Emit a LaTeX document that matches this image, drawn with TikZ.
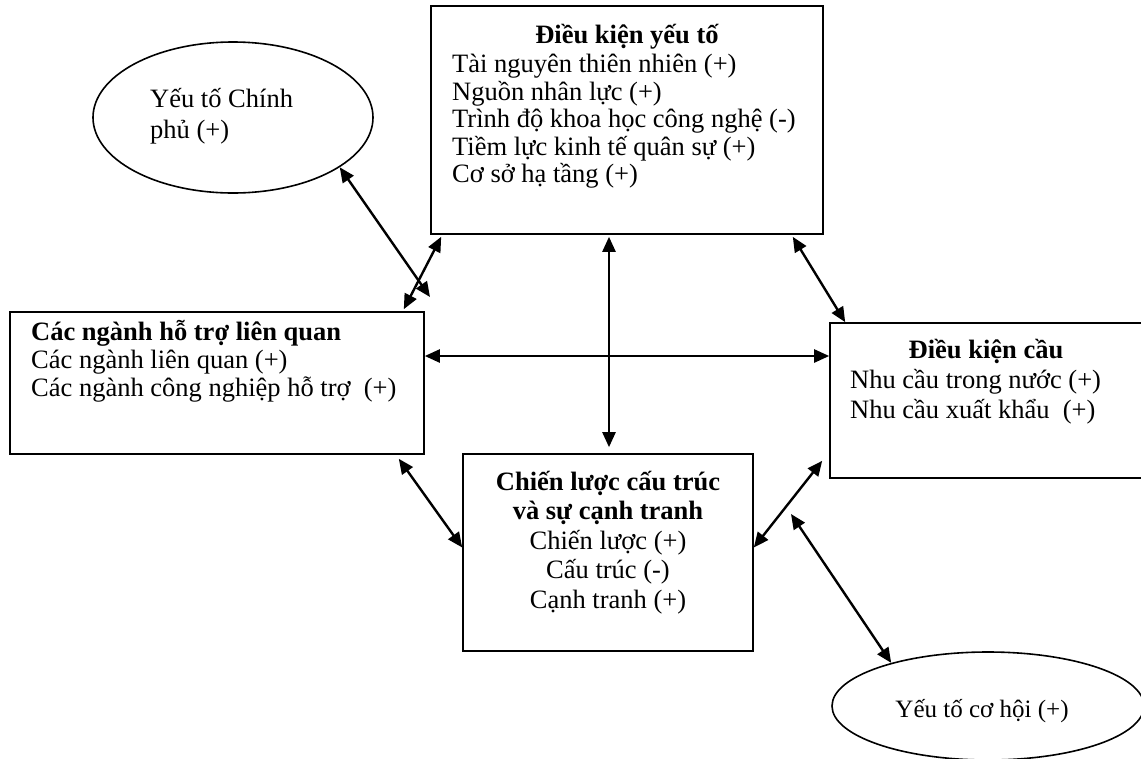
\documentclass[tikz,border=0pt]{standalone}
\usepackage{fontspec}
\setmainfont{Liberation Serif}
\usetikzlibrary{arrows.meta,shapes.geometric}

\begin{document}
\begin{tikzpicture}[x=1pt,y=-1pt,
  box/.style={draw, line width=1.6pt, rectangle, inner sep=0pt},
  oval/.style={draw, line width=1.6pt, ellipse, inner sep=0pt},
  txt/.style={inner sep=0pt, font=\fontsize{26.5pt}{30pt}\selectfont},
  ttl/.style={inner sep=0pt, font=\fontsize{26.5pt}{30pt}\selectfont\bfseries},
  link/.style={line width=2.4pt,
    {Triangle[length=15pt,width=13pt]}-{Triangle[length=15pt,width=13pt]}}
]
\path[use as bounding box] (0,0) rectangle (1141,758);
\fill[white] (0,0) rectangle (1141,758);
\begin{scope}
\clip (0,0) rectangle (1141,758);

% the four determinant boxes
\node[box, minimum width=392pt, minimum height=228pt] (factor) at (627,120) {};
\node[box, minimum width=414pt, minimum height=142pt] (support) at (217,383) {};
\node[box, minimum width=313pt, minimum height=155pt] (demand) at (986.5,400.5) {};
\node[box, minimum width=290pt, minimum height=197pt] (strategy) at (608,552.5) {};

% the two outside factors
\node[oval, minimum width=280pt, minimum height=151pt] (gov) at (233,117.5) {};
\node[oval, minimum width=312pt, minimum height=108pt] (opp) at (988,706) {};

% factor conditions
\node[ttl, anchor=base] (factor-title) at (627,43) {Điều kiện yếu tố};
\foreach \s [count=\i] in {Tài nguyên thiên nhiên (+), Nguồn nhân lực (+),
    Trình độ khoa học công nghệ (-), Tiềm lực kinh tế quân sự (+), Cơ sở hạ tầng (+)}
  \node[txt, anchor=base west] (factor-\i) at (452, 45+27.5*\i) {\s};

% related and supporting industries
\node[ttl, anchor=base west] (support-title) at (31,340) {Các ngành hỗ trợ liên quan};
\node[txt, anchor=base west] (support-1) at (31,368) {Các ngành liên quan (+)};
\node[txt, anchor=base west] (support-2) at (31,396) {Các ngành công nghiệp hỗ trợ~ (+)};

% demand conditions
\node[ttl, anchor=base] (demand-title) at (986,358) {Điều kiện cầu};
\node[txt, anchor=base west] (demand-1) at (850,388) {Nhu cầu trong nước (+)};
\node[txt, anchor=base west] (demand-2) at (850,418) {Nhu cầu xuất khẩu~ (+)};

% strategy, structure and rivalry
\node[ttl, anchor=base] (strategy-t1) at (608,490) {Chiến lược cấu trúc};
\node[ttl, anchor=base] (strategy-t2) at (608,519.5) {và sự cạnh tranh};
\node[txt, anchor=base] (strategy-1) at (608,549) {Chiến lược (+)};
\node[txt, anchor=base] (strategy-2) at (608,578.5) {Cấu trúc (-)};
\node[txt, anchor=base] (strategy-3) at (608,608) {Cạnh tranh (+)};

% government and chance
\node[txt, anchor=base west] (gov-1) at (150,107) {Yếu tố Chính};
\node[txt, anchor=base west] (gov-2) at (150,138) {phủ (+)};
\node[txt, font=\fontsize{25pt}{28pt}\selectfont, anchor=base] (opp-1) at (982,717) {Yếu tố cơ hội (+)};

% connectors
\coordinate (govend) at (430,297);
\coordinate (oppend) at (791,514);
\draw[link] (gov.-25) -- (govend);
\draw[link] ([xshift=11pt,yshift=-2pt]factor.south west) -- ([xshift=-21pt,yshift=2pt]support.north east);
\draw[link] ([xshift=-18pt,yshift=-2pt]factor.south) -- ([xshift=1pt,yshift=6pt]strategy.north);
\draw[link] ([yshift=27pt]support.east) -- ([yshift=44.5pt]demand.west);
\draw[link] ([xshift=-31pt,yshift=-2pt]factor.south east) -- ([xshift=16pt]demand.north west);
\draw[link] ([xshift=-26pt,yshift=-4pt]support.south east) -- ([yshift=5pt]strategy.west);
\draw[link] ([yshift=5pt]strategy.east) -- ([xshift=-7pt,yshift=18pt]demand.south west);
\draw[link] (oppend) -- (opp.156);
\end{scope}
\end{tikzpicture}
\end{document}
